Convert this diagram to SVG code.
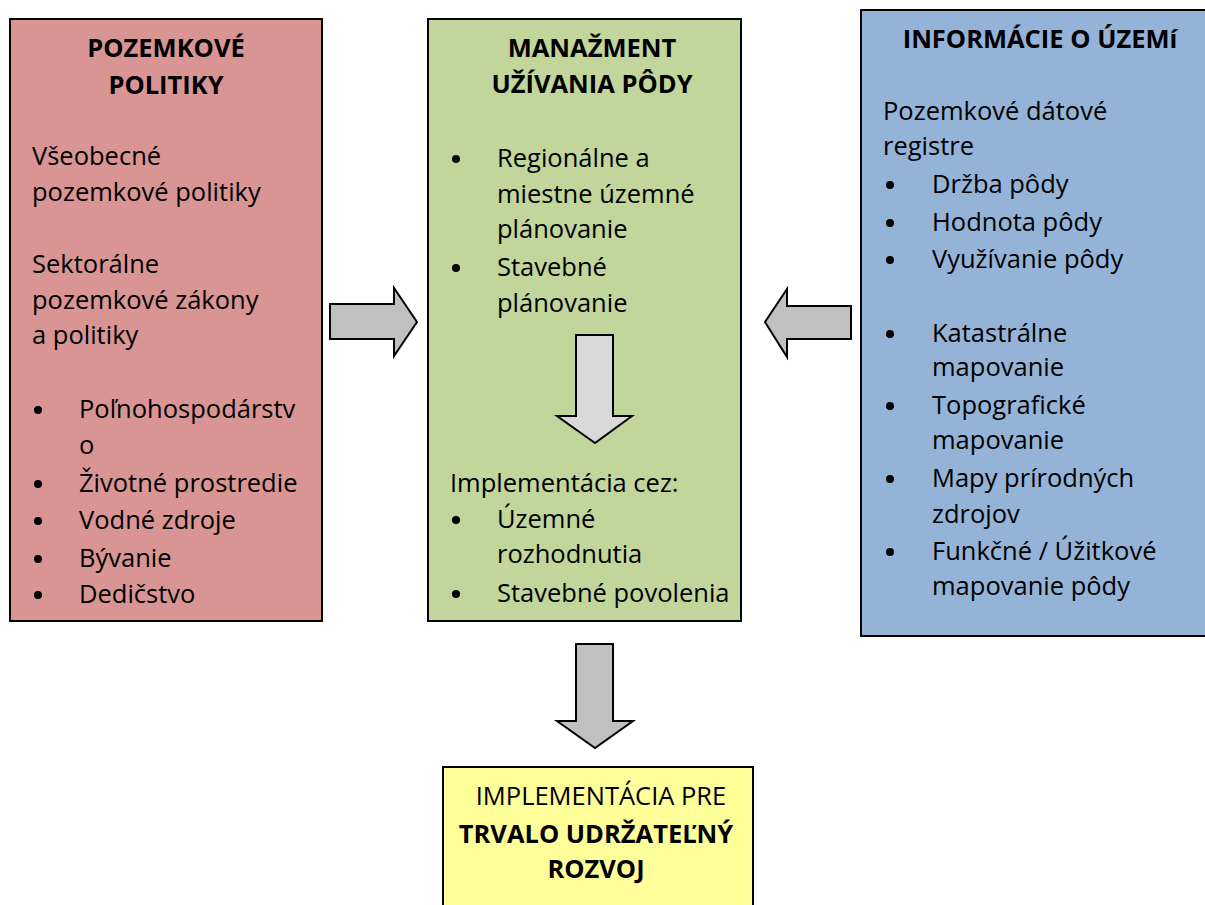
<svg xmlns="http://www.w3.org/2000/svg" width="1205" height="905" viewBox="0 0 1205 905">
<style>
.box{stroke:#000;stroke-width:2}
.t{font-family:"Open Sans","Noto Sans",sans-serif;font-size:25.5px;fill:#000}
.b{font-weight:bold;text-anchor:middle}
.arr{stroke:#000;stroke-width:2;stroke-linejoin:miter}
</style>
<rect width="1205" height="905" fill="#fff"/>
<g id="node-policies">
<rect class="box" x="10" y="19" width="312" height="602" fill="#d99594"/>
<text class="t b" x="166" y="57">POZEMKOVÉ</text>
<text class="t b" x="166" y="94">POLITIKY</text>
<text class="t" x="32" y="165">Všeobecné</text>
<text class="t" x="32" y="201">pozemkové politiky</text>
<text class="t" x="32" y="273">Sektorálne</text>
<text class="t" x="32" y="309">pozemkové zákony</text>
<text class="t" x="32" y="344">a politiky</text>
<g fill="#000"><circle cx="38" cy="410" r="4"/><circle cx="38" cy="484" r="4"/><circle cx="38" cy="521" r="4"/><circle cx="38" cy="559" r="4"/><circle cx="38" cy="595" r="4"/></g>
<text class="t" x="79" y="418">Poľnohospodárstv</text>
<text class="t" x="79" y="454">o</text>
<text class="t" x="79" y="492">Životné prostredie</text>
<text class="t" x="79" y="529">Vodné zdroje</text>
<text class="t" x="79" y="567">Bývanie</text>
<text class="t" x="79" y="603">Dedičstvo</text>
</g>
<g id="node-management">
<rect class="box" x="428" y="19" width="313" height="602" fill="#c2d69b"/>
<text class="t b" x="592" y="57">MANAŽMENT</text>
<text class="t b" x="592" y="93">UŽÍVANIA PÔDY</text>
<g fill="#000"><circle cx="456" cy="159" r="4"/><circle cx="456" cy="268" r="4"/><circle cx="456" cy="520" r="4"/><circle cx="456" cy="594" r="4"/></g>
<text class="t" x="497" y="167">Regionálne a</text>
<text class="t" x="497" y="203">miestne územné</text>
<text class="t" x="497" y="238">plánovanie</text>
<text class="t" x="497" y="276">Stavebné</text>
<text class="t" x="497" y="312">plánovanie</text>
<polygon class="arr" points="576,335 613,335 613,416 632,416 595,443 557,416 576,416" fill="#d9d9d9"/>
<text class="t" x="450" y="492">Implementácia cez:</text>
<text class="t" x="497" y="528">Územné</text>
<text class="t" x="497" y="563">rozhodnutia</text>
<text class="t" x="497" y="602">Stavebné povolenia</text>
</g>
<g id="node-information">
<rect class="box" x="861" y="10" width="360" height="626" fill="#95b3d7"/>
<text class="t b" x="1040" y="48">INFORMÁCIE O ÚZEMí</text>
<text class="t" x="883" y="120">Pozemkové dátové</text>
<text class="t" x="883" y="155">registre</text>
<g fill="#000"><circle cx="890" cy="185" r="4"/><circle cx="890" cy="223" r="4"/><circle cx="890" cy="260" r="4"/><circle cx="890" cy="334" r="4"/><circle cx="890" cy="406" r="4"/><circle cx="890" cy="479" r="4"/><circle cx="890" cy="552" r="4"/></g>
<text class="t" x="932" y="193">Držba pôdy</text>
<text class="t" x="932" y="231">Hodnota pôdy</text>
<text class="t" x="932" y="268">Využívanie pôdy</text>
<text class="t" x="932" y="342">Katastrálne</text>
<text class="t" x="932" y="376">mapovanie</text>
<text class="t" x="932" y="414">Topografické</text>
<text class="t" x="932" y="449">mapovanie</text>
<text class="t" x="932" y="487">Mapy prírodných</text>
<text class="t" x="932" y="523">zdrojov</text>
<text class="t" x="932" y="560">Funkčné / Úžitkové</text>
<text class="t" x="932" y="595">mapovanie pôdy</text>
</g>
<g id="node-result">
<rect class="box" x="443" y="767" width="310" height="160" fill="#ffff99"/>
<text class="t" x="601" y="805" text-anchor="middle">IMPLEMENTÁCIA PRE</text>
<text class="t b" x="596" y="843">TRVALO UDRŽATEĽNÝ</text>
<text class="t b" x="596" y="878">ROZVOJ</text>
</g>
<g id="connectors">
<polygon class="arr" points="330,304 394,304 394,288 417,322 394,356 394,339 330,339" fill="#c0c0c0"/>
<polygon class="arr" points="851,306 787,306 787,289 765,322 787,357 787,339 851,339" fill="#c0c0c0"/>
<polygon class="arr" points="576,644 613,644 613,721 633,721 595,748 557,721 576,721" fill="#c0c0c0"/>
</g>
</svg>
